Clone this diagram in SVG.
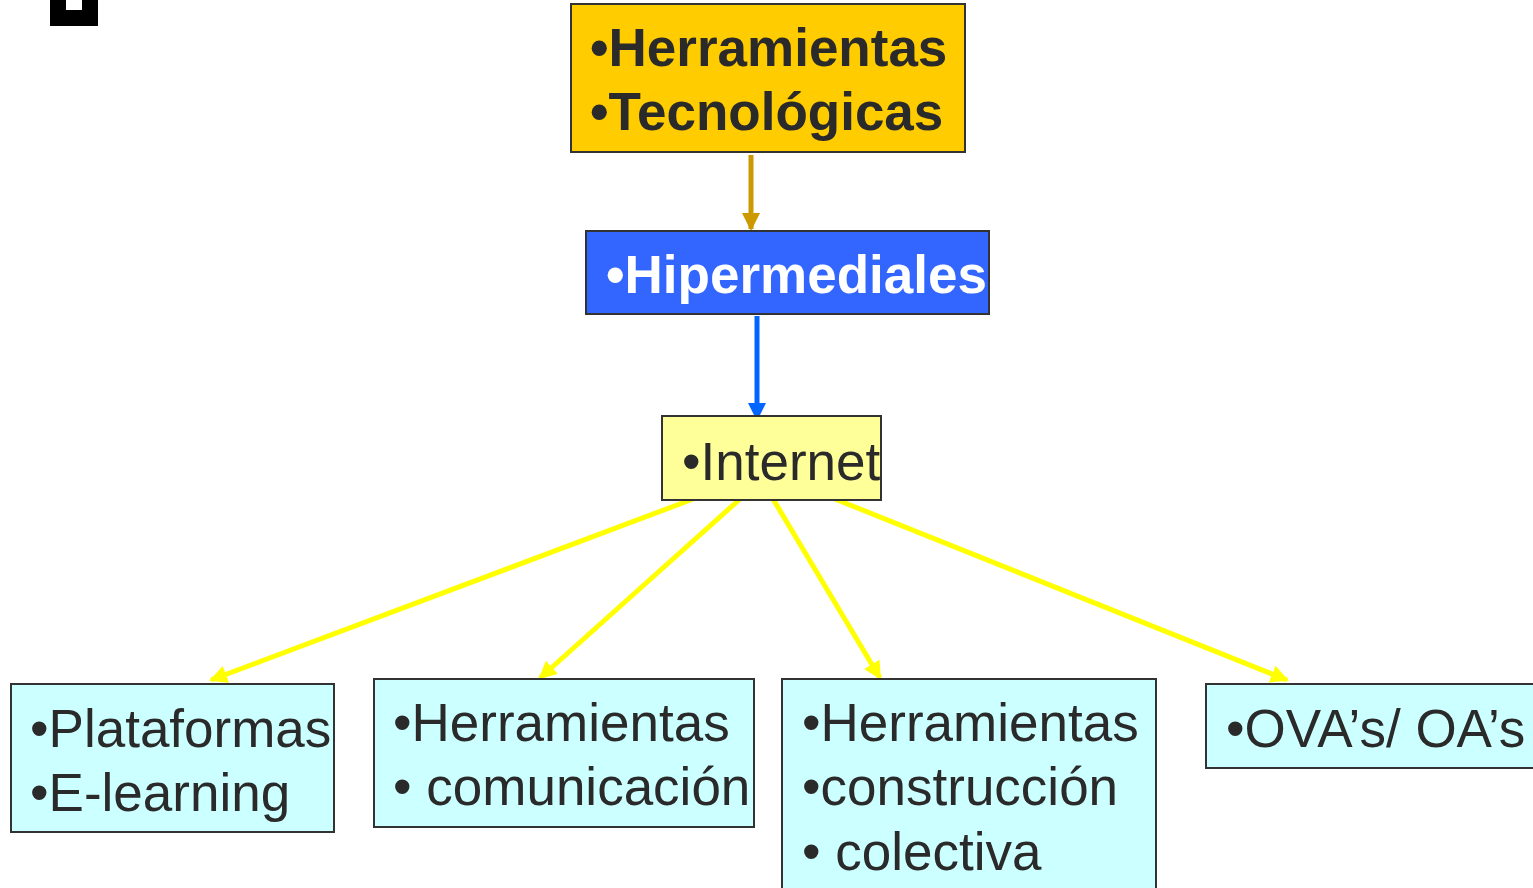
<svg xmlns="http://www.w3.org/2000/svg" width="1533" height="888" viewBox="0 0 1533 888">
<style>
.box{stroke:#333333;stroke-width:2}
.t{font-family:"Liberation Sans",Arial,sans-serif;font-size:53px;fill:#2a2a2a}
.b{font-weight:bold}
.w{fill:#ffffff}
.y{stroke:#ffff00;stroke-width:5;fill:none}
</style>
<defs>
<marker id="ag" markerWidth="3.6" markerHeight="3.6" refX="3.2" refY="1.8" orient="auto" markerUnits="strokeWidth"><path d="M0,0 L3.6,1.8 L0,3.6 z" fill="#cc9900"/></marker>
<marker id="ab" markerWidth="3.6" markerHeight="3.6" refX="3.2" refY="1.8" orient="auto" markerUnits="strokeWidth"><path d="M0,0 L3.6,1.8 L0,3.6 z" fill="#0066ff"/></marker>
<marker id="ay" markerWidth="3.6" markerHeight="3.6" refX="3.2" refY="1.8" orient="auto" markerUnits="strokeWidth"><path d="M0,0 L3.6,1.8 L0,3.6 z" fill="#ffff00"/></marker>
</defs>
<rect width="1533" height="888" fill="#ffffff"/>
<g id="corner"><rect x="50" y="0" width="48" height="26" fill="#000"/><rect x="66" y="0" width="16" height="10" fill="#fff"/></g>
<g id="connectors">
<line x1="751" y1="155" x2="751" y2="229" stroke="#cc9900" stroke-width="5" marker-end="url(#ag)"/>
<line x1="757" y1="316" x2="757" y2="419" stroke="#0066ff" stroke-width="5" marker-end="url(#ab)"/>
<line class="y" x1="693" y1="499" x2="211" y2="680" marker-end="url(#ay)"/>
<line class="y" x1="740" y1="499" x2="540" y2="678" marker-end="url(#ay)"/>
<line class="y" x1="773" y1="499" x2="880" y2="678" marker-end="url(#ay)"/>
<line class="y" x1="835" y1="499" x2="1287" y2="680" marker-end="url(#ay)"/>
</g>
<g id="n-herramientas-tec">
<rect class="box" x="571" y="4" width="394" height="148" fill="#ffcc00"/>
<text class="t b" x="590" y="66">•Herramientas</text>
<text class="t b" x="590" y="130">•Tecnológicas</text>
</g>
<g id="n-hipermediales">
<rect class="box" x="586" y="231" width="403" height="83" fill="#3366ff"/>
<text class="t b w" x="606" y="293">•Hipermediales</text>
</g>
<g id="n-internet">
<rect class="box" x="662" y="416" width="219" height="84" fill="#ffff99"/>
<text class="t" x="682" y="480">•Internet</text>
</g>
<g id="n-plataformas">
<rect class="box" x="11" y="684" width="323" height="148" fill="#ccffff"/>
<text class="t" x="30" y="747">•Plataformas</text>
<text class="t" x="30" y="811">•E-learning</text>
</g>
<g id="n-comunicacion">
<rect class="box" x="374" y="679" width="380" height="148" fill="#ccffff"/>
<text class="t" x="393" y="741">•Herramientas</text>
<text class="t" x="393" y="805">• comunicación</text>
</g>
<g id="n-construccion">
<rect class="box" x="782" y="679" width="374" height="215" fill="#ccffff"/>
<text class="t" x="802" y="741">•Herramientas</text>
<text class="t" x="802" y="805">•construcción</text>
<text class="t" x="802" y="870">• colectiva</text>
</g>
<g id="n-ova">
<rect class="box" x="1206" y="684" width="335" height="84" fill="#ccffff"/>
<text class="t" x="1226" y="747">•OVA’s/ OA’s</text>
</g>
</svg>
